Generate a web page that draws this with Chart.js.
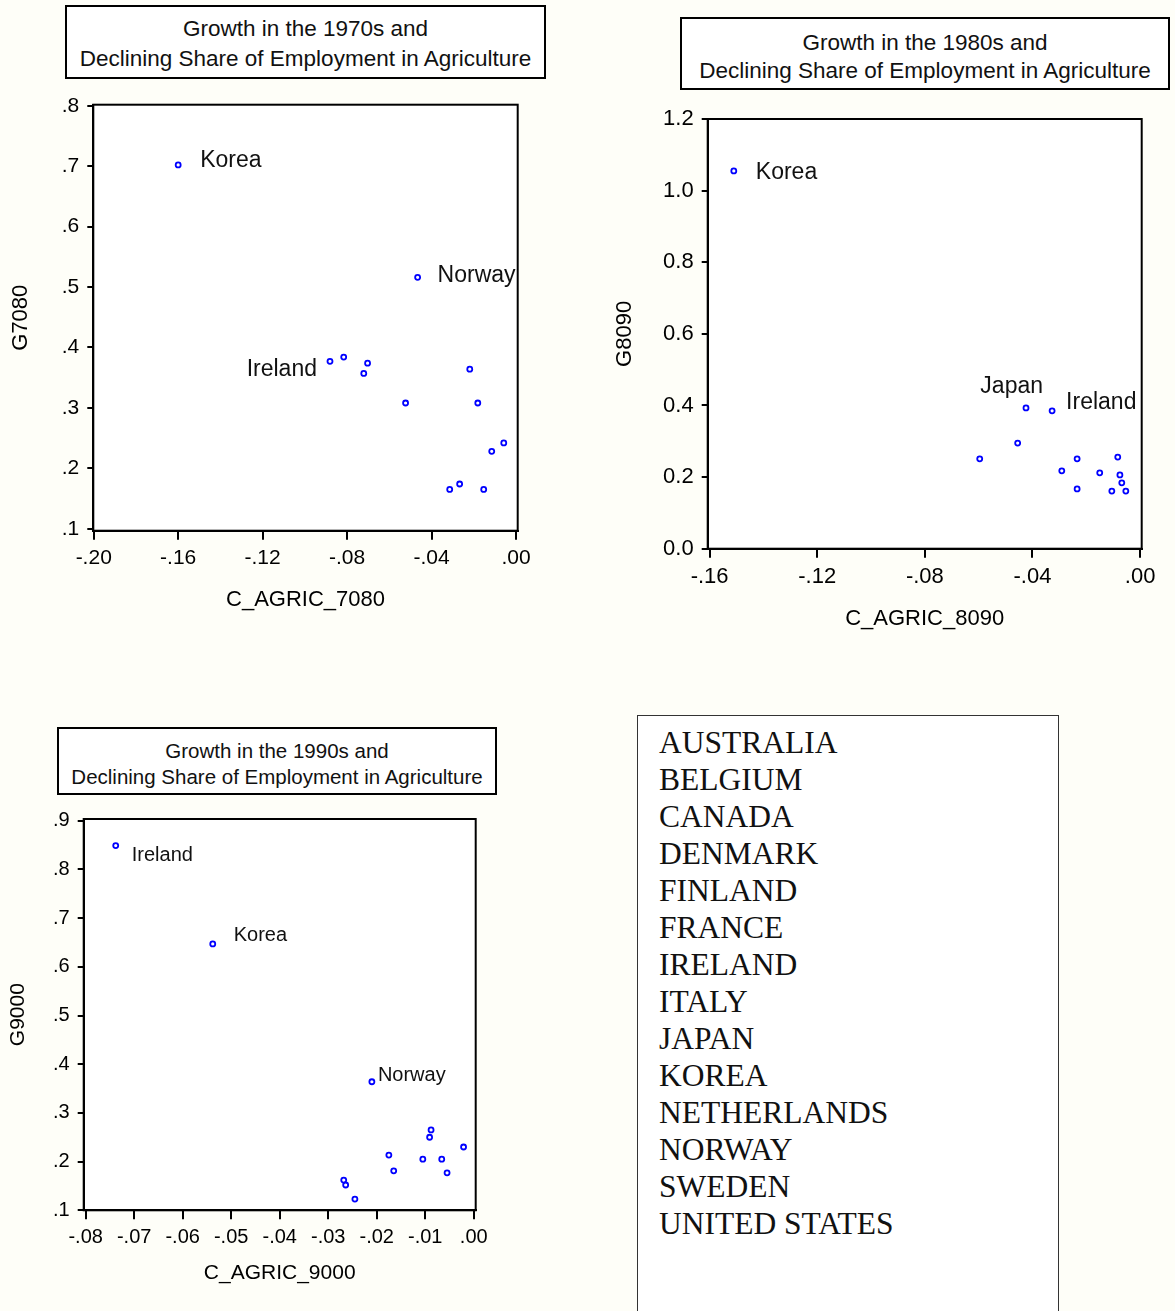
<!DOCTYPE html>
<html>
<head>
<meta charset="utf-8">
<script src="https://cdn.jsdelivr.net/npm/chart.js@4.4.0/dist/chart.umd.min.js"></script>
<style>
  body { margin: 0; background: #fefef8; font-family: "Liberation Sans", Arial, sans-serif; }
  #page { position: relative; width: 1175px; height: 1311px; overflow: hidden; }
  canvas { position: absolute; }
  .title {
    position: absolute; box-sizing: border-box; border: 2px solid #000;
    background: #fff; text-align: center; color: #111; white-space: nowrap;
  }
  #legend {
    position: absolute; left: 637px; top: 715px; width: 422px; height: 600px;
    box-sizing: border-box; border: 1.5px solid #333; background: #fff;
    padding: 8px 0 0 21px; font-family: "Liberation Serif", "Times New Roman", serif;
    font-size: 31.5px; line-height: 37px; color: #111;
  }
</style>
</head>
<body>
<div id="page">
  <div class="title" style="left:65px;top:5px;width:481px;height:74px;padding-top:7px;font-size:22.5px;line-height:30px;">
    Growth in the 1970s and<br>Declining Share of Employment in Agriculture
  </div>
  <div class="title" style="left:680px;top:17px;width:490px;height:73px;padding-top:10px;font-size:22.5px;line-height:28px;">
    Growth in the 1980s and<br>Declining Share of Employment in Agriculture
  </div>
  <div class="title" style="left:57px;top:727px;width:440px;height:68px;padding-top:9px;font-size:20.5px;line-height:26px;">
    Growth in the 1990s and<br>Declining Share of Employment in Agriculture
  </div>

  <canvas id="c7080" width="545" height="538" style="left:0;top:82px;"></canvas>
  <canvas id="c8090" width="575" height="548" style="left:600px;top:97px;"></canvas>
  <canvas id="c9000" width="500" height="503" style="left:0;top:797px;"></canvas>

  <div id="legend"></div>
</div>

<script>
// countries in the sample
const countries = ["AUSTRALIA", "BELGIUM", "CANADA", "DENMARK", "FINLAND", "FRANCE", "IRELAND",
  "ITALY", "JAPAN", "KOREA", "NETHERLANDS", "NORWAY", "SWEDEN", "UNITED STATES"];

// 1970s
const cAgric7080 = [-0.160, -0.0466, -0.0881, -0.0816, -0.0721, -0.0703, -0.0523,
  -0.0219, -0.0181, -0.0115, -0.0058, -0.0314, -0.0267, -0.0153];
const g7080 = [0.702, 0.516, 0.377, 0.384, 0.357, 0.374, 0.308,
  0.364, 0.308, 0.228, 0.242, 0.165, 0.174, 0.165];
const names7080 = ["Korea", "Norway", "Ireland", "", "", "", "", "", "", "", "", "", "", ""];
const xTicks7080 = [-0.20, -0.16, -0.12, -0.08, -0.04, 0];
const xLabels7080 = ["-.20", "-.16", "-.12", "-.08", "-.04", ".00"];
const yTicks7080 = [0.1, 0.2, 0.3, 0.4, 0.5, 0.6, 0.7, 0.8];
const yLabels7080 = [".1", ".2", ".3", ".4", ".5", ".6", ".7", ".8"];

// 1980s
const cAgric8090 = [-0.151, -0.0424, -0.0327, -0.0455, -0.0596, -0.0234, -0.0291,
  -0.0234, -0.0150, -0.0083, -0.0075, -0.0068, -0.0105, -0.0053];
const g8090 = [1.055, 0.393, 0.385, 0.295, 0.251, 0.251, 0.2175,
  0.167, 0.212, 0.256, 0.206, 0.184, 0.161, 0.161];
const names8090 = ["Korea", "Japan", "Ireland", "", "", "", "", "", "", "", "", "", "", ""];
const xTicks8090 = [-0.16, -0.12, -0.08, -0.04, 0];
const xLabels8090 = ["-.16", "-.12", "-.08", "-.04", ".00"];
const yTicks8090 = [0, 0.2, 0.4, 0.6, 0.8, 1.0, 1.2];
const yLabels8090 = ["0.0", "0.2", "0.4", "0.6", "0.8", "1.0", "1.2"];

// 1990s
const cAgric9000 = [-0.0738, -0.0538, -0.0210, -0.0088, -0.0091, -0.0021, -0.0175,
  -0.0105, -0.0066, -0.0165, -0.0055, -0.0268, -0.0264, -0.0245];
const g9000 = [0.849, 0.647, 0.364, 0.265, 0.250, 0.230, 0.2135,
  0.205, 0.205, 0.181, 0.177, 0.162, 0.152, 0.123];
const names9000 = ["Ireland", "Korea", "Norway", "", "", "", "", "", "", "", "", "", "", ""];
const xTicks9000 = [-0.08, -0.07, -0.06, -0.05, -0.04, -0.03, -0.02, -0.01, 0];
const xLabels9000 = ["-.08", "-.07", "-.06", "-.05", "-.04", "-.03", "-.02", "-.01", ".00"];
const yTicks9000 = [0.1, 0.2, 0.3, 0.4, 0.5, 0.6, 0.7, 0.8, 0.9];
const yLabels9000 = [".1", ".2", ".3", ".4", ".5", ".6", ".7", ".8", ".9"];

Chart.defaults.font.family = '"Liberation Sans", Arial, sans-serif';
Chart.defaults.color = '#000';

document.getElementById("legend").innerHTML = countries.join("<br>");

// white plot area, box frame, point names
function frameAndNames(names, offsets, labelSize) {
  return {
    id: 'frameAndNames',
    beforeDraw(chart) {
      const a = chart.chartArea, ctx = chart.ctx;
      ctx.save();
      ctx.fillStyle = '#fff';
      ctx.fillRect(a.left, a.top, a.right - a.left, a.bottom - a.top);
      ctx.restore();
    },
    afterDatasetsDraw(chart) {
      const a = chart.chartArea, ctx = chart.ctx;
      ctx.save();
      ctx.strokeStyle = '#000';
      ctx.lineWidth = 2;
      ctx.strokeRect(a.left, a.top, a.right - a.left, a.bottom - a.top);
      ctx.fillStyle = '#111';
      ctx.font = labelSize + 'px "Liberation Sans", Arial, sans-serif';
      ctx.textBaseline = 'middle';
      chart.data.datasets[0].data.forEach((p, i) => {
        const n = names[i];
        if (!n) return;
        const o = offsets[n];
        ctx.textAlign = o.align || 'left';
        ctx.fillText(n, chart.scales.x.getPixelForValue(p.x) + o.dx,
                        chart.scales.y.getPixelForValue(p.y) + o.dy);
      });
      ctx.restore();
    }
  };
}

function makeScatter(id, c) {
  const pts = c.xs.map((x, i) => ({x: x, y: c.ys[i]}));
  return new Chart(document.getElementById(id), {
    type: 'scatter',
    data: {
      datasets: [{
        data: pts,
        pointRadius: 2.5,
        borderWidth: 1.8,
        borderColor: '#0000ff',
        backgroundColor: '#ffffff'
      }]
    },
    options: {
      responsive: false,
      animation: false,
      layout: { padding: { top: c.padTop, right: c.padRight, left: 0, bottom: 0 } },
      plugins: { legend: { display: false }, tooltip: { enabled: false } },
      scales: {
        x: {
          type: 'linear', min: c.xMin, max: c.xMax,
          afterBuildTicks: s => { s.ticks = c.xTicks.map(v => ({value: v})); },
          afterFit: s => { s.height = c.xHeight; },
          ticks: {
            autoSkip: false, maxRotation: 0, padding: 6,
            font: { size: c.tickSize },
            callback: v => c.xLabels[c.xTicks.indexOf(v)]
          },
          grid: { drawOnChartArea: false, drawTicks: true, tickLength: 9, color: '#000', lineWidth: 2 },
          border: { display: true, color: '#000', width: 2 },
          title: { display: true, text: c.xTitle, font: { size: c.titleSize }, padding: { top: 0, bottom: c.xTitlePad } }
        },
        y: {
          type: 'linear', min: c.yMin, max: c.yMax,
          afterBuildTicks: s => { s.ticks = c.yTicks.map(v => ({value: v})); },
          afterFit: s => { s.width = c.yWidth; },
          ticks: {
            autoSkip: false, padding: 8,
            font: { size: c.yTickSize },
            callback: v => c.yLabels[c.yTicks.indexOf(v)]
          },
          grid: { drawOnChartArea: false, drawTicks: true, tickLength: 6, color: '#000', lineWidth: 2 },
          border: { display: true, color: '#000', width: 2 },
          title: { display: true, text: c.yTitle, font: { size: c.titleSize }, padding: { top: c.yTitlePad, bottom: 0 } }
        }
      }
    },
    plugins: [frameAndNames(c.names, c.offsets, c.labelSize)]
  });
}

makeScatter("c7080", {
  xs: cAgric7080, ys: g7080, names: names7080,
  xTicks: xTicks7080, xLabels: xLabels7080, yTicks: yTicks7080, yLabels: yLabels7080,
  xMin: -0.2002, xMax: 0.0008, yMin: 0.0967, yMax: 0.8017,
  xTitle: "C_AGRIC_7080", yTitle: "G7080",
  padTop: 22.7, padRight: 27.3, yWidth: 93.3, xHeight: 89.3,
  tickSize: 21, yTickSize: 21, titleSize: 22, labelSize: 23,
  xTitlePad: 6.8, yTitlePad: 7.5,
  offsets: {
    Korea: { dx: 22, dy: -4 },
    Norway: { dx: 20, dy: -2 },
    Ireland: { dx: -13, dy: 8, align: 'right' }
  }
});

makeScatter("c8090", {
  xs: cAgric8090, ys: g8090, names: names8090,
  xTicks: xTicks8090, xLabels: xLabels8090, yTicks: yTicks8090, yLabels: yLabels8090,
  xMin: -0.1607, xMax: 0.0006, yMin: 0, yMax: 1.2,
  xTitle: "C_AGRIC_8090", yTitle: "G8090",
  padTop: 22, padRight: 33.3, yWidth: 107.7, xHeight: 96.3,
  tickSize: 22, yTickSize: 22, titleSize: 22, labelSize: 23,
  xTitlePad: 12.8, yTitlePad: 11.8,
  offsets: {
    Korea: { dx: 22, dy: 2 },
    Japan: { dx: 17, dy: -21, align: 'right' },
    Ireland: { dx: 14, dy: -8 }
  }
});

makeScatter("c9000", {
  xs: cAgric9000, ys: g9000, names: names9000,
  xTicks: xTicks9000, xLabels: xLabels9000, yTicks: yTicks9000, yLabels: yLabels9000,
  xMin: -0.0804, xMax: 0.0004, yMin: 0.1, yMax: 0.9035,
  xTitle: "C_AGRIC_9000", yTitle: "G9000",
  padTop: 22, padRight: 24.3, yWidth: 83.7, xHeight: 89.7,
  tickSize: 20, yTickSize: 20, titleSize: 21, labelSize: 20,
  xTitlePad: 14.4, yTitlePad: 6,
  offsets: {
    Ireland: { dx: 16, dy: 10 },
    Korea: { dx: 21, dy: -8 },
    Norway: { dx: 6, dy: -6 }
  }
});
</script>
</body>
</html>
